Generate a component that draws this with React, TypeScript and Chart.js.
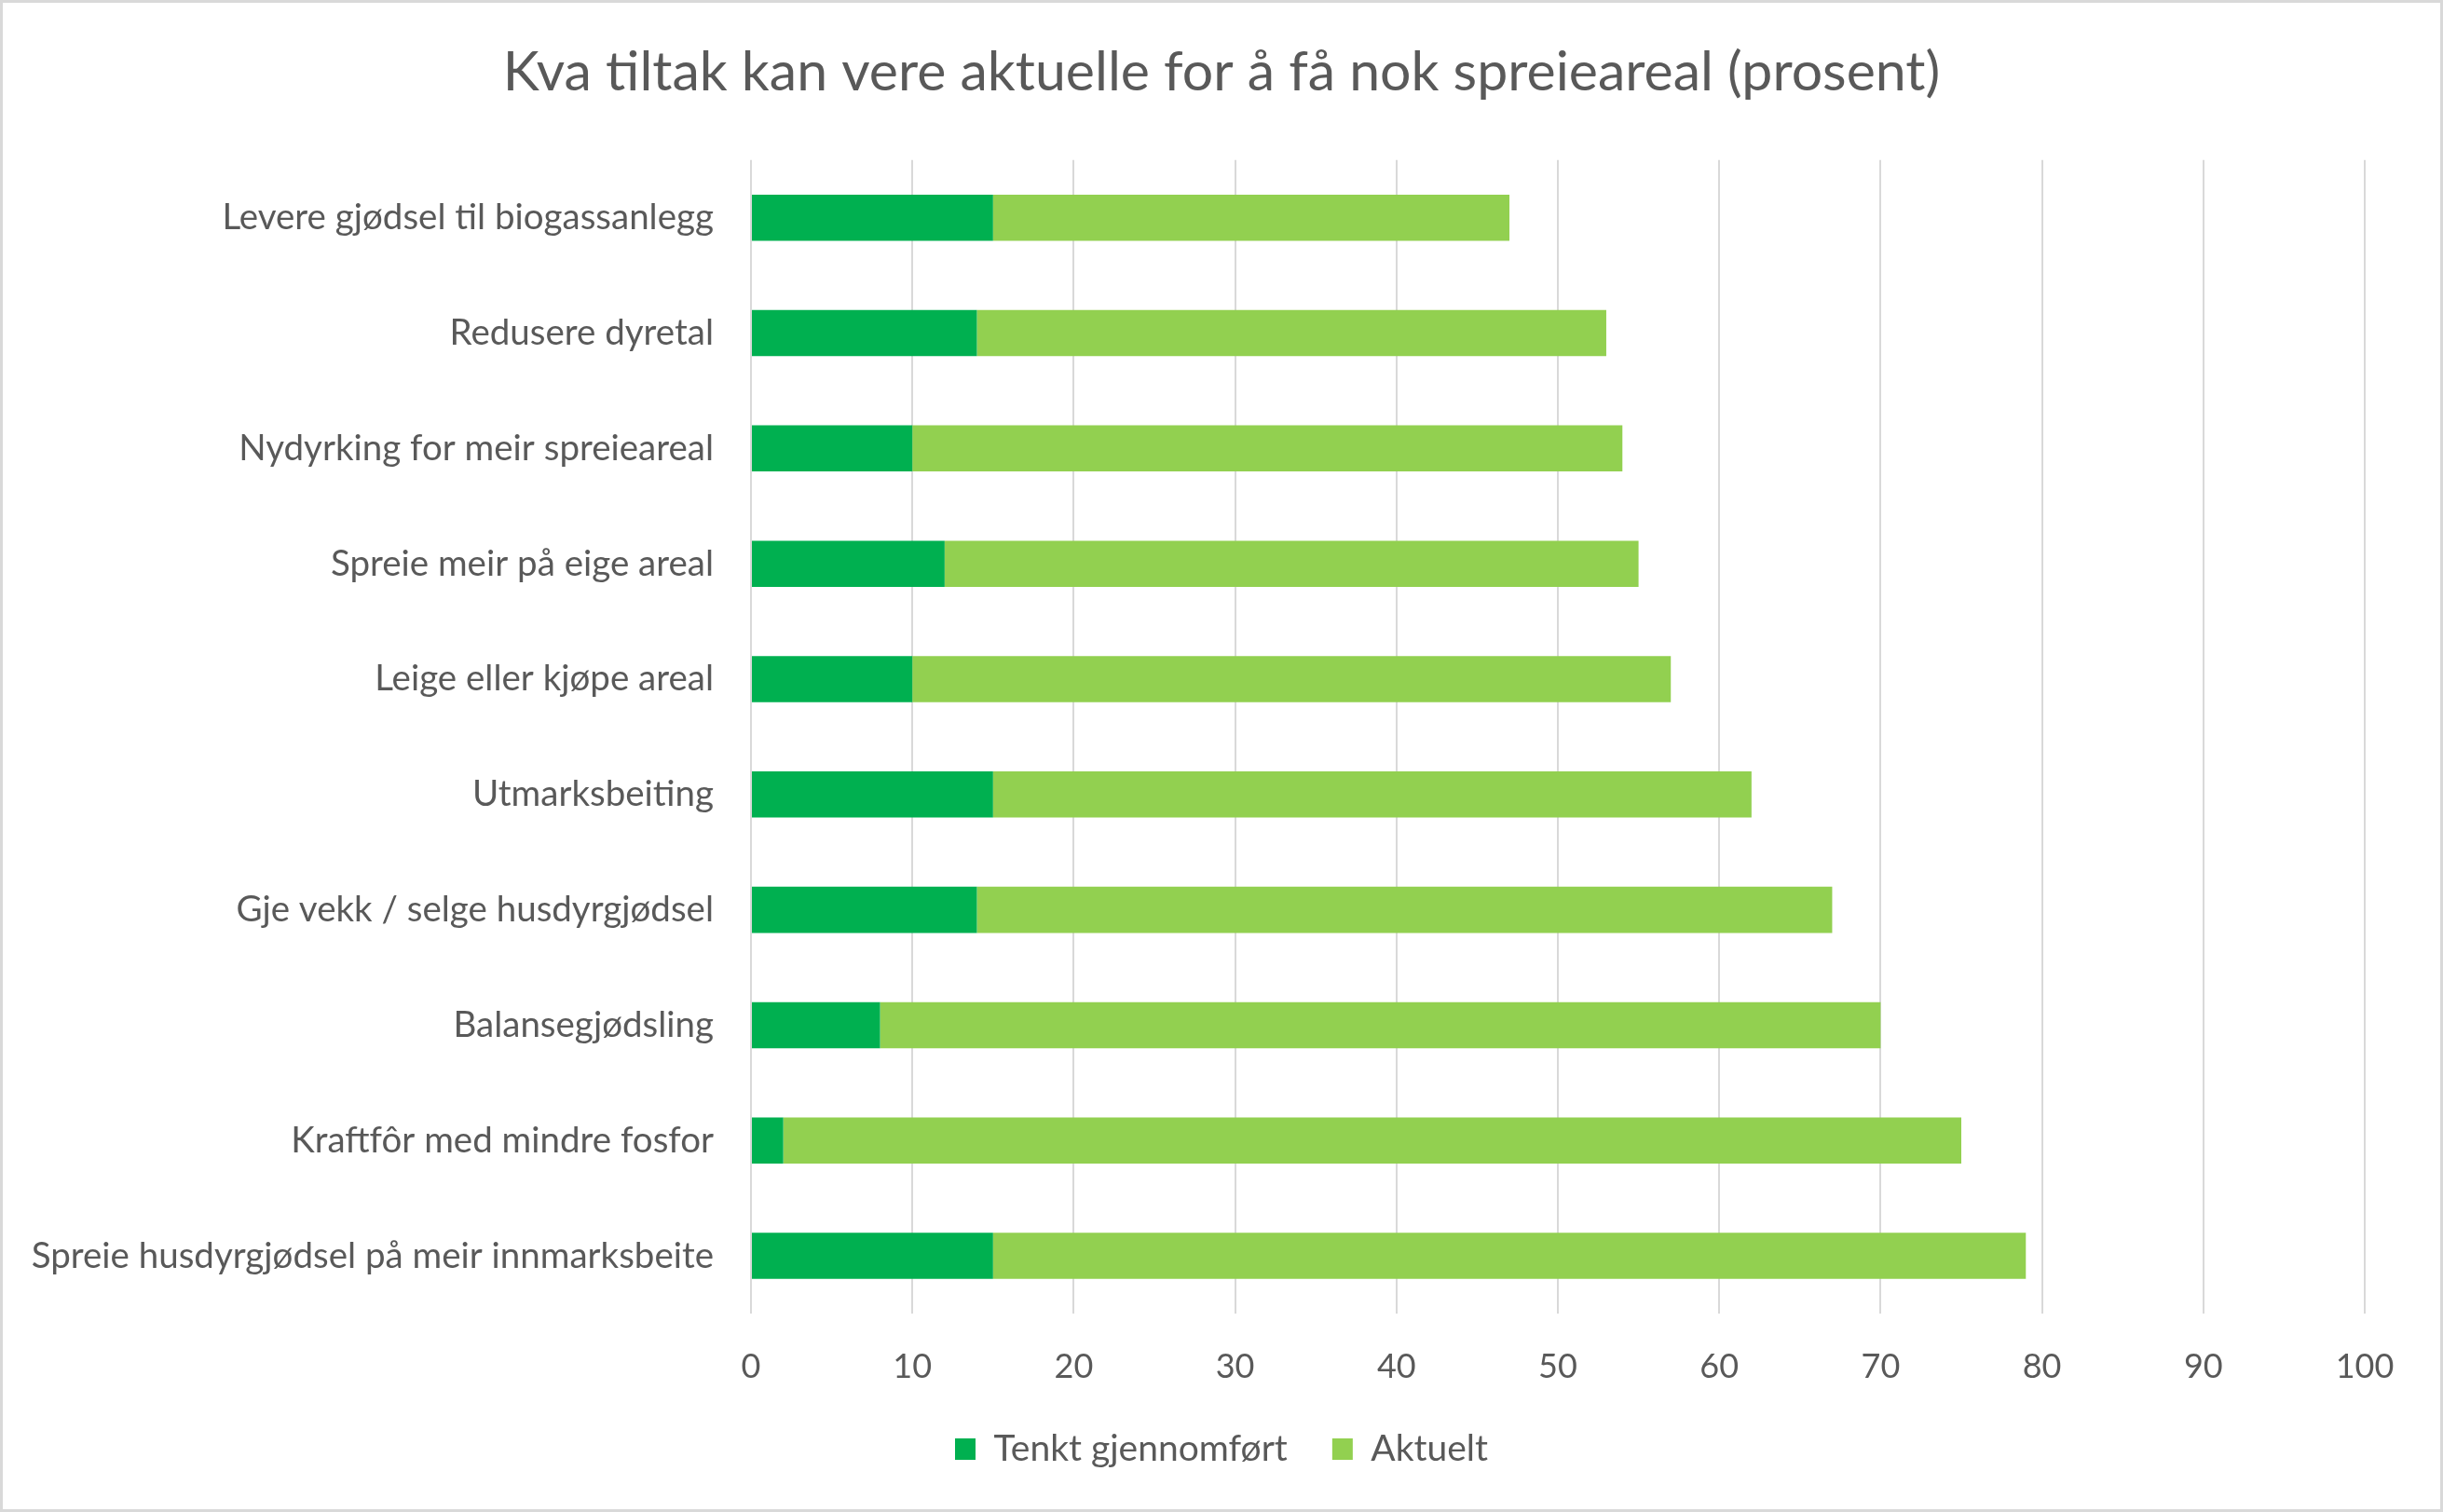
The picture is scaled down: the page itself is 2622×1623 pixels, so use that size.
import { useEffect, useRef } from "react";

import { Chart, registerables } from "chart.js";

Chart.register(...registerables);

const categories = [
  "Levere gjødsel til biogassanlegg",
  "Redusere dyretal",
  "Nydyrking for meir spreieareal",
  "Spreie meir på eige areal",
  "Leige eller kjøpe areal",
  "Utmarksbeiting",
  "Gje vekk / selge husdyrgjødsel",
  "Balansegjødsling",
  "Kraftfôr med mindre fosfor",
  "Spreie husdyrgjødsel på meir innmarksbeite",
];

const tenktGjennomfort = [15, 14, 10, 12, 10, 15, 14, 8, 2, 15];
const aktuelt = [32, 39, 44, 43, 47, 47, 53, 62, 73, 64];

const title = "Kva tiltak kan vere aktuelle for å få nok spreieareal (prosent)";

const darkGreen = "#00B050";
const lightGreen = "#92D050";
const textColor = "#595959";
const gridColor = "#D9D9D9";
const fontFamily = "Lato, 'Open Sans', sans-serif";

const W = 2622;
const H = 1623;

// white background and the thin grey frame round the chart
const frame = {
  id: "frame",
  beforeDraw(chart: Chart) {
    const { ctx } = chart;
    ctx.save();
    ctx.fillStyle = "#fff";
    ctx.fillRect(0, 0, W, H);
    ctx.strokeStyle = gridColor;
    ctx.lineWidth = 3;
    ctx.strokeRect(1.5, 1.5, W - 3, H - 3);
    ctx.restore();
  },
};

export default function App() {
  const canvasRef = useRef<HTMLCanvasElement>(null);

  useEffect(() => {
    if (!canvasRef.current) return;

    const chart = new Chart(canvasRef.current, {
      type: "bar",
      data: {
        labels: categories,
        datasets: [
          {
            label: "Tenkt gjennomført",
            data: tenktGjennomfort,
            backgroundColor: darkGreen,
            barPercentage: 0.4,
            categoryPercentage: 1,
          },
          {
            label: "Aktuelt",
            data: aktuelt,
            backgroundColor: lightGreen,
            barPercentage: 0.4,
            categoryPercentage: 1,
          },
        ],
      },
      options: {
        indexAxis: "y",
        responsive: false,
        devicePixelRatio: 1,
        animation: false,
        layout: { padding: { left: 0, right: 0, top: 0, bottom: 38 } },
        plugins: {
          title: {
            display: true,
            text: title,
            color: textColor,
            font: { family: fontFamily, size: 59, weight: "normal" },
            padding: { top: 43, bottom: 58 },
          },
          legend: {
            position: "bottom",
            labels: {
              color: textColor,
              font: { family: fontFamily, size: 39 },
              boxWidth: 22,
              boxHeight: 23,
              padding: 48,
            },
          },
          tooltip: { enabled: false },
        },
        scales: {
          x: {
            stacked: true,
            min: 0,
            max: 100,
            ticks: {
              stepSize: 10,
              color: textColor,
              font: { family: fontFamily, size: 36 },
              padding: 36,
            },
            grid: { color: gridColor, lineWidth: 2, drawTicks: false },
            border: { display: false },
            afterFit(scale) {
              scale.height = 78;
            },
          },
          y: {
            stacked: true,
            ticks: {
              color: textColor,
              font: { family: fontFamily, size: 38.5 },
              padding: 32,
            },
            grid: { display: false },
            border: { display: false },
            afterFit(scale) {
              scale.width = 806;
            },
          },
          // empty right-hand axis that only keeps the space right of the plot
          yRight: {
            type: "category",
            position: "right",
            ticks: { display: false },
            grid: { display: false },
            border: { display: false },
            afterFit(scale) {
              scale.width = 84;
            },
          },
        },
      },
      plugins: [frame],
    });

    return () => {
      chart.destroy();
    };
  }, []);

  return (
    <div style={{ position: "fixed", left: 0, top: 0, width: W, height: H }}>
      <canvas ref={canvasRef} width={W} height={H} />
    </div>
  );
}
